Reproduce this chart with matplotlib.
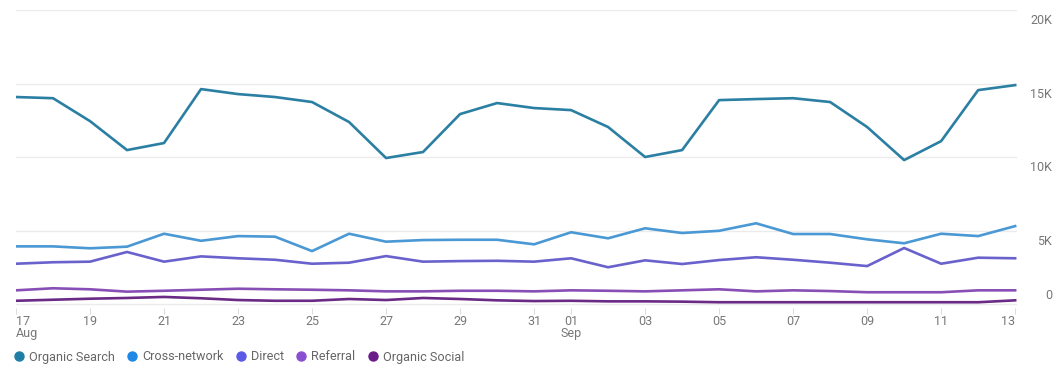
import matplotlib
matplotlib.use("Agg")
import matplotlib.pyplot as plt
import matplotlib.transforms as mtransforms
from matplotlib.lines import Line2D
import numpy as np

plt.rcParams["font.family"] = ["Roboto", "DejaVu Sans"]

# daily sessions, 17 Aug -> 13 Sep
day_labels = ["17", "18", "19", "20", "21", "22", "23", "24", "25", "26", "27", "28", "29", "30", "31",
              "01", "02", "03", "04", "05", "06", "07", "08", "09", "10", "11", "12", "13"]
month_starts = {"17": "Aug", "01": "Sep"}

organic_search = [14080, 14000, 12440, 10470, 10950, 14620, 14280, 14080, 13740, 12380, 9930, 10340, 12920, 13670,
                  13330, 13190, 12040, 10000, 10470, 13870, 13940, 14000, 13740, 12040, 9790, 11080, 14550, 14890]
cross_network = [3920, 3920, 3790, 3900, 4780, 4300, 4620, 4580, 3600, 4780, 4240, 4350, 4370, 4370,
                 4060, 4880, 4470, 5150, 4830, 4980, 5490, 4760, 4760, 4400, 4130, 4780, 4620, 5300]
direct = [2740, 2840, 2880, 3540, 2880, 3240, 3110, 3010, 2740, 2810, 3260, 2880, 2920, 2940,
          2880, 3110, 2500, 2970, 2720, 2990, 3180, 3010, 2810, 2580, 3810, 2740, 3150, 3110]
referral = [930, 1070, 1000, 840, 900, 970, 1040, 1000, 970, 930, 860, 860, 900, 900,
            860, 930, 900, 860, 930, 1000, 860, 930, 880, 800, 800, 800, 930, 930]
organic_social = [220, 290, 360, 410, 480, 390, 270, 220, 220, 340, 270, 410, 340, 250,
                  200, 220, 180, 180, 160, 120, 120, 120, 120, 120, 120, 120, 120, 250]

series = [
    ("Organic Search", organic_search, "#2b7fa3", "#1f7ea6"),
    ("Cross-network", cross_network, "#4a98d4", "#1e88e5"),
    ("Direct", direct, "#6a62cc", "#5a5ae6"),
    ("Referral", referral, "#874fb5", "#8a4fd0"),
    ("Organic Social", organic_social, "#6a2a86", "#6a1b8a"),
]

y_ticks = [0, 5000, 10000, 15000, 20000]
y_tick_labels = ["0", "5K", "10K", "15K", "20K"]

fig = plt.figure(figsize=(10.56, 3.67), dpi=100)
# axes spans 20K (y=10px) down to a few px below the zero line (y=304px)
ax = fig.add_axes([16 / 1056, 1 - 308 / 367, 1001 / 1056, 298 / 367])

x = np.arange(len(day_labels))
for name, vals, line_color, _ in series:
    ax.plot(x, vals, color=line_color, lw=1.9, solid_joinstyle="round", zorder=3)

ax.set_xlim(0, len(day_labels) - 1 + 0.05)
ax.set_ylim(-272, 20000)

for s in ax.spines.values():
    s.set_visible(False)

ax.set_yticks(y_ticks)
ax.yaxis.grid(True, color="#ebebeb", lw=1)
ax.tick_params(axis="y", length=0, labelleft=False, labelright=False)
ax.set_axisbelow(True)

# right-hand value labels, just below each gridline (zero sits above its line)
lab_tr = mtransforms.blended_transform_factory(fig.transFigure, ax.transData)
for v, lab in zip(y_ticks, y_tick_labels):
    dy = 11 / 72 if v == 0 else -3 / 72
    t = ax.text(1052 / 1056, v, lab, ha="right", va="top", fontsize=9, color="#777777")
    t.set_transform(lab_tr + mtransforms.ScaledTranslation(0, dy, fig.dpi_scale_trans))

tick_idx = [i for i, d in enumerate(day_labels) if (i <= 14 and i % 2 == 0) or (i >= 15 and (i - 15) % 2 == 0)]
ax.set_xticks(tick_idx)
ax.set_xticklabels([day_labels[i] + ("\n" + month_starts[day_labels[i]] if day_labels[i] in month_starts else "")
                    for i in tick_idx], linespacing=0.95)
ax.tick_params(axis="x", length=4, color="#dddddd", labelsize=9, labelcolor="#777777", pad=1)
xlabels = ax.get_xticklabels()
xlabels[0].set_ha("left")
xlabels[-1].set_ha("right")

handles = [Line2D([], [], marker="o", ls="none", color=c, markersize=6.5) for _, _, _, c in series]
fig.legend(handles, [s[0] for s in series], loc="center left", bbox_to_anchor=(8 / 1056, 1 - 357 / 367),
           ncol=5, frameon=False, fontsize=9.1, handletextpad=0.3, columnspacing=0.85,
           handlelength=1.0, labelcolor="#666666", borderaxespad=0)

fig.savefig("out.png", dpi=100)
